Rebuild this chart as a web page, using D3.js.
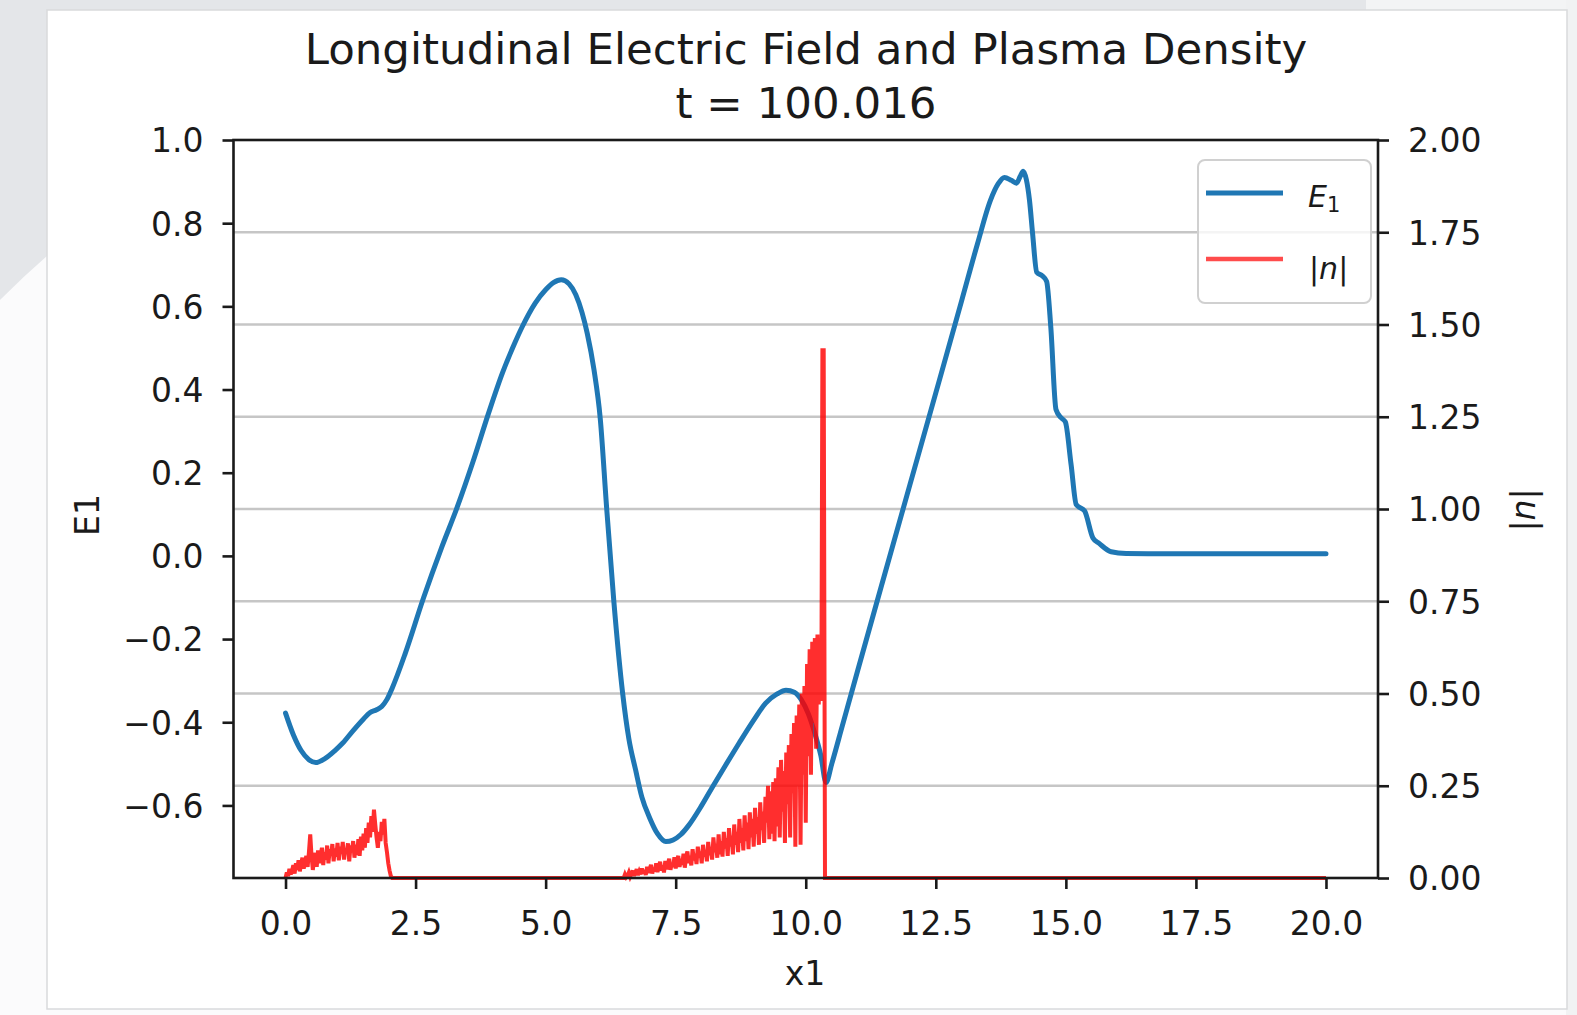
<!DOCTYPE html>
<html>
<head>
<meta charset="utf-8">
<script src="https://cdn.jsdelivr.net/npm/d3@7"></script>
<style>
  html, body { margin: 0; padding: 0; background: #e4e6e9; }
  svg { display: block; }
  text { font-family: "DejaVu Sans", sans-serif; fill: #1a1a1a; }
</style>
</head>
<body>
<svg id="chart" width="1577" height="1015"></svg>
<script>
// ---------------- data ----------------
const titleLines = ["Longitudinal Electric Field and Plasma Density", "t = 100.016"];
const xTicks = [0.0, 2.5, 5.0, 7.5, 10.0, 12.5, 15.0, 17.5, 20.0];
const yLeftTicks = [-0.6, -0.4, -0.2, 0.0, 0.2, 0.4, 0.6, 0.8, 1.0];
const yRightTicks = [0.00, 0.25, 0.50, 0.75, 1.00, 1.25, 1.50, 1.75, 2.00];
const xLabel = "x1";
const yLeftLabel = "E1";

// E1 series (x1, E1)
const e1X = [0.00,0.15,0.30,0.45,0.58,0.75,0.95,1.10,1.30,1.50,1.62,1.75,1.85,1.95,2.05,2.30,2.65,3.00,3.30,3.60,3.90,4.17,4.40,4.55,4.80,5.00,5.15,5.30,5.45,5.58,5.70,5.80,5.93,6.05,6.17,6.31,6.48,6.60,6.73,6.85,7.00,7.15,7.31,7.45,7.60,7.75,8.00,8.21,8.45,8.72,9.00,9.23,9.45,9.62,9.78,9.91,10.05,10.17,10.29,10.39,10.50,10.70,11.00,11.50,12.00,12.50,13.00,13.30,13.55,13.70,13.82,13.95,14.05,14.12,14.18,14.24,14.30,14.36,14.44,14.55,14.63,14.71,14.81,14.91,14.99,15.10,15.20,15.36,15.52,15.64,15.87,16.16,17.00,18.00,19.00,20.00];
const e1Y = [-0.378,-0.430,-0.468,-0.490,-0.497,-0.488,-0.468,-0.450,-0.420,-0.392,-0.377,-0.370,-0.362,-0.345,-0.318,-0.235,-0.102,0.020,0.117,0.225,0.342,0.440,0.510,0.551,0.608,0.640,0.657,0.664,0.654,0.628,0.585,0.535,0.447,0.330,0.120,-0.108,-0.330,-0.440,-0.515,-0.580,-0.630,-0.668,-0.687,-0.683,-0.670,-0.648,-0.600,-0.555,-0.505,-0.450,-0.395,-0.354,-0.332,-0.323,-0.328,-0.345,-0.380,-0.425,-0.480,-0.545,-0.500,-0.410,-0.275,-0.052,0.170,0.392,0.615,0.750,0.855,0.895,0.910,0.903,0.896,0.912,0.925,0.905,0.856,0.776,0.682,0.673,0.660,0.551,0.352,0.332,0.322,0.220,0.123,0.108,0.043,0.030,0.010,0.006,0.005,0.005,0.005,0.005];

// |n| series (x1, |n|)
const nX = [
  0.000,0.025,0.050,0.075,0.100,0.125,0.150,0.175,0.200,0.225,0.250,0.275,0.300,0.325,0.350,0.375,0.400,0.425,0.450,0.475,
  0.500,0.525,0.550,0.575,0.600,0.625,0.650,0.675,0.700,0.725,0.750,0.775,0.800,0.825,0.850,0.875,0.900,0.925,0.950,0.975,
  1.000,1.025,1.050,1.075,1.100,1.125,1.150,1.175,1.200,1.225,1.250,1.275,1.300,1.325,1.350,1.375,1.400,1.425,1.450,1.475,
  1.500,1.525,1.550,1.575,1.600,1.625,1.650,1.675,1.700,1.725,1.750,1.775,1.800,1.825,1.850,1.875,1.900,1.925,1.950,1.975,
  2.000,2.025,2.050,
  6.500,6.525,6.550,6.575,6.600,6.625,6.650,6.675,6.700,6.725,6.750,6.775,6.800,6.825,6.850,6.875,6.900,6.925,6.950,6.975,
  7.000,7.025,7.050,7.075,7.100,7.125,7.150,7.175,7.200,7.225,7.250,7.275,7.300,7.325,7.350,7.375,7.400,7.425,7.450,7.475,
  7.500,7.525,7.550,7.575,7.600,7.625,7.650,7.675,7.700,7.725,7.750,7.775,7.800,7.825,7.850,7.875,7.900,7.925,7.950,7.975,
  8.000,8.025,8.050,8.075,8.100,8.125,8.150,8.175,8.200,8.225,8.250,8.275,8.300,8.325,8.350,8.375,8.400,8.425,8.450,8.475,
  8.500,8.525,8.550,8.575,8.600,8.625,8.650,8.675,8.700,8.725,8.750,8.775,8.800,8.825,8.850,8.875,8.900,8.925,8.950,8.975,
  9.000,9.025,9.050,9.075,9.100,9.125,9.150,9.175,9.200,9.225,9.250,9.275,9.300,9.325,9.350,9.375,9.400,9.425,9.450,9.475,
  9.500,9.525,9.550,9.575,9.600,9.625,9.650,9.675,9.700,9.725,9.750,9.775,9.800,9.825,9.850,9.875,9.900,9.925,9.950,9.975,
  10.000,10.025,10.050,10.075,10.100,10.125,10.150,10.175,10.200,10.225,10.250,10.275,10.300,10.320,10.345,10.370,20.000];
const nY = [
  0.000,0.015,0.005,0.025,0.010,0.020,0.035,0.012,0.040,0.022,0.048,0.018,0.038,0.055,0.025,0.045,0.060,0.030,0.070,0.118,
  0.060,0.022,0.050,0.068,0.030,0.075,0.040,0.062,0.082,0.035,0.070,0.050,0.088,0.040,0.078,0.060,0.092,0.045,0.080,0.058,
  0.095,0.048,0.085,0.065,0.098,0.050,0.080,0.068,0.094,0.045,0.088,0.070,0.100,0.055,0.090,0.062,0.105,0.060,0.112,0.075,
  0.120,0.082,0.135,0.095,0.150,0.110,0.168,0.125,0.185,0.145,0.110,0.082,0.125,0.100,0.152,0.118,0.160,0.095,0.070,0.040,
  0.020,0.005,0.000,
  0.000,0.010,0.002,0.006,0.015,0.004,0.012,0.020,0.006,0.014,0.024,0.008,0.018,0.010,0.026,0.012,0.022,0.008,0.030,0.014,
  0.024,0.036,0.012,0.028,0.018,0.040,0.016,0.030,0.044,0.020,0.034,0.015,0.046,0.024,0.038,0.052,0.022,0.040,0.030,0.056,
  0.026,0.048,0.060,0.030,0.052,0.036,0.066,0.028,0.058,0.072,0.040,0.060,0.034,0.078,0.048,0.066,0.038,0.085,0.055,0.072,
  0.040,0.090,0.058,0.076,0.045,0.098,0.062,0.084,0.050,0.110,0.070,0.092,0.055,0.118,0.064,0.100,0.058,0.125,0.080,0.108,
  0.060,0.135,0.085,0.115,0.064,0.145,0.090,0.125,0.070,0.160,0.095,0.135,0.075,0.170,0.100,0.150,0.078,0.178,0.110,0.160,
  0.085,0.190,0.120,0.165,0.090,0.205,0.130,0.180,0.095,0.220,0.150,0.250,0.105,0.235,0.120,0.260,0.100,0.270,0.140,0.300,
  0.110,0.320,0.180,0.290,0.095,0.340,0.200,0.360,0.110,0.390,0.230,0.420,0.085,0.440,0.250,0.470,0.090,0.500,0.280,0.520,
  0.150,0.580,0.330,0.620,0.280,0.640,0.420,0.650,0.350,0.660,0.470,0.650,0.480,1.430,1.430,0.000,0.000];

// ---------------- drawing ----------------
const svg = d3.select("#chart");

// page background decorations
svg.append("rect").attr("x", 0).attr("y", 0).attr("width", 1577).attr("height", 1015).attr("fill", "#e4e6e9");
svg.append("circle").attr("cx", 700).attr("cy", 1000).attr("r", 990).attr("fill", "#fbfbfc");
svg.append("rect").attr("x", 1366).attr("y", 0).attr("width", 211).attr("height", 12).attr("fill", "#f3f4f5");
svg.append("rect").attr("x", 1566).attr("y", 0).attr("width", 11).attr("height", 1015).attr("fill", "#f1f2f3");
svg.append("rect").attr("x", 47).attr("y", 10).attr("width", 1520).attr("height", 999)
  .attr("fill", "#ffffff").attr("stroke", "#d9dadc").attr("stroke-width", 1.5);

const x = d3.scaleLinear().domain([-1, 21]).range([233.5, 1378]);
const yL = d3.scaleLinear().domain([-0.7745, 1.0]).range([878, 140]);
const yR = d3.scaleLinear().domain([0, 2]).range([878, 140]);

const FS = 33;

// grid (right axis ticks)
svg.append("g").selectAll("line").data(yRightTicks.filter(d => d > 0 && d < 2)).join("line")
  .attr("x1", x.range()[0]).attr("x2", x.range()[1])
  .attr("y1", d => yR(d)).attr("y2", d => yR(d))
  .attr("stroke", "#c6c6c6").attr("stroke-width", 2.6);

// E1 line
const e1Data = e1X.map((v, i) => [v, e1Y[i]]);
svg.append("path").datum(e1Data)
  .attr("fill", "none").attr("stroke", "#1f77b4").attr("stroke-width", 5)
  .attr("stroke-linejoin", "round").attr("stroke-linecap", "round")
  .attr("d", d3.line().x(d => x(d[0])).y(d => yL(d[1])).curve(d3.curveMonotoneX));

// |n| line
const nData = nX.map((v, i) => [v, nY[i]]);
svg.append("path").datum(nData)
  .attr("fill", "none").attr("stroke", "red").attr("stroke-opacity", 0.82).attr("stroke-width", 4)
  .attr("stroke-linejoin", "miter").attr("stroke-miterlimit", 3)
  .attr("d", d3.line().x(d => x(d[0])).y(d => yR(d[1])));

// axes
const fmt1 = d3.format(".1f");
const fmt2 = d3.format(".2f");

const gx = svg.append("g").attr("transform", "translate(0,878)")
  .call(d3.axisBottom(x).tickValues(xTicks).tickFormat(fmt1).tickSize(11).tickSizeOuter(0));
gx.selectAll("text").attr("y", 57).attr("dy", 0);

const gl = svg.append("g").attr("transform", "translate(233.5,0)")
  .call(d3.axisLeft(yL).tickValues(yLeftTicks).tickFormat(fmt1).tickSize(11).tickPadding(19).tickSizeOuter(0));
gl.selectAll("text").attr("dy", "0.36em");

const gr = svg.append("g").attr("transform", "translate(1378,0)")
  .call(d3.axisRight(yR).tickValues(yRightTicks).tickFormat(fmt2).tickSize(11).tickPadding(19).tickSizeOuter(0));
gr.selectAll("text").attr("dy", "0.36em");

[gx, gl, gr].forEach(g => {
  g.select(".domain").remove();
  g.selectAll(".tick line").attr("stroke", "#1a1a1a").attr("stroke-width", 2.6);
  g.selectAll("text").attr("font-size", FS).attr("font-family", "DejaVu Sans").attr("fill", "#1a1a1a");
});

// frame
svg.append("rect").attr("x", 233.5).attr("y", 140).attr("width", 1378 - 233.5).attr("height", 878 - 140)
  .attr("fill", "none").attr("stroke", "#1a1a1a").attr("stroke-width", 2.6);

// title
svg.append("text").attr("x", 806).attr("y", 64).attr("text-anchor", "middle").attr("font-size", 43.5).text(titleLines[0]);
svg.append("text").attr("x", 806).attr("y", 118).attr("text-anchor", "middle").attr("font-size", 43.5).text(titleLines[1]);

// axis labels
svg.append("text").attr("x", 805).attr("y", 985).attr("text-anchor", "middle").attr("font-size", FS).text(xLabel);
svg.append("text").attr("transform", "translate(99,515) rotate(-90)").attr("text-anchor", "middle").attr("font-size", FS).text(yLeftLabel);
const rl = svg.append("text").attr("transform", "translate(1535,510) rotate(-90)").attr("text-anchor", "middle").attr("font-size", FS);
rl.append("tspan").text("|");
rl.append("tspan").attr("font-style", "italic").text("n");
rl.append("tspan").text("|");

// legend
const lg = svg.append("g");
lg.append("rect").attr("x", 1198).attr("y", 160).attr("width", 173).attr("height", 143).attr("rx", 7)
  .attr("fill", "#ffffff").attr("fill-opacity", 0.8).attr("stroke", "#d0d0d0").attr("stroke-width", 2);
lg.append("line").attr("x1", 1206).attr("x2", 1283).attr("y1", 193).attr("y2", 193)
  .attr("stroke", "#1f77b4").attr("stroke-width", 5);
lg.append("line").attr("x1", 1206).attr("x2", 1283).attr("y1", 259).attr("y2", 259)
  .attr("stroke", "red").attr("stroke-opacity", 0.7).attr("stroke-width", 4.5);
const t1 = lg.append("text").attr("x", 1308).attr("y", 207).attr("font-size", 30);
t1.append("tspan").attr("font-style", "italic").text("E");
t1.append("tspan").attr("font-size", 21).attr("dy", 5).text("1");
const t2 = lg.append("text").attr("x", 1309).attr("y", 279).attr("font-size", 30);
t2.append("tspan").text("|");
t2.append("tspan").attr("font-style", "italic").text("n");
t2.append("tspan").text("|");
</script>
</body>
</html>
